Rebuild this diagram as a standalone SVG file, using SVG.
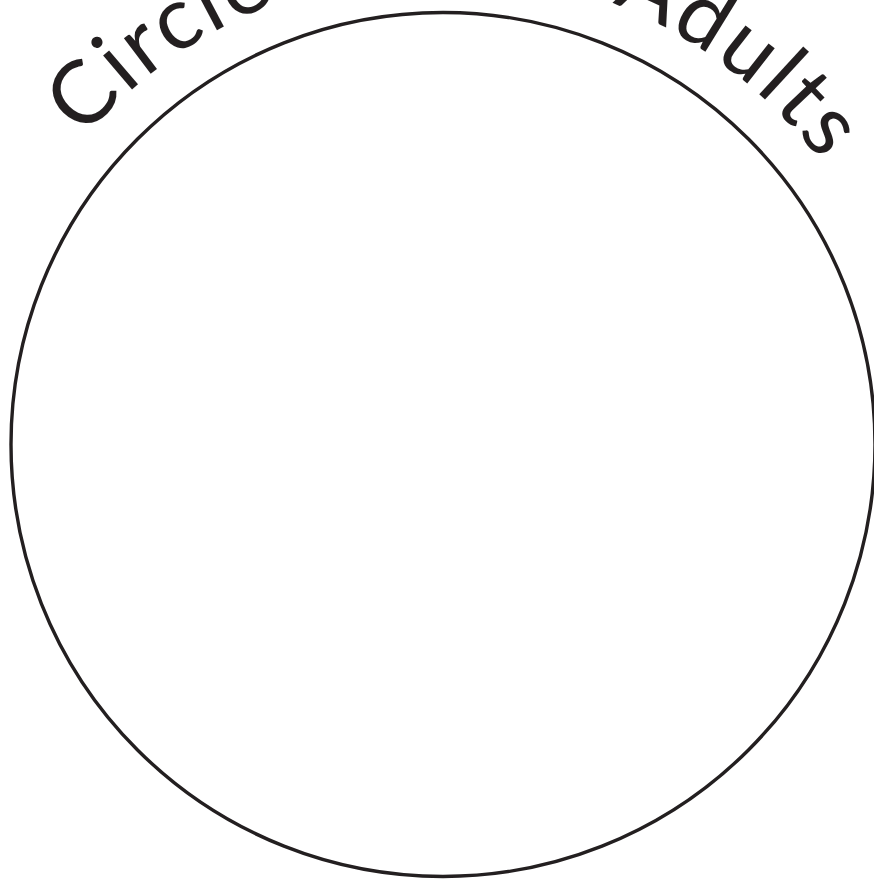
<svg xmlns="http://www.w3.org/2000/svg" xmlns:xlink="http://www.w3.org/1999/xlink" width="874" height="880" viewBox="0 0 874 880">
  <style>
    .ring { fill: #ffffff; stroke: #231f20; stroke-width: 3.4; }
    .title { font-family: Lato, "Liberation Sans", sans-serif; font-size: 88px; fill: #231f20; letter-spacing: 3.5px; }
  </style>
  <defs>
    <path id="arc" d="M -29 444.5 A 472 472 0 0 1 915 444.5"/>
  </defs>
  <rect width="874" height="880" fill="#ffffff"/>
  <g id="circle">
    <circle class="ring" cx="443" cy="444.5" r="432"/>
  </g>
  <g id="title">
    <text class="title"><textPath xlink:href="#arc" href="#arc" startOffset="333">Circle</textPath></text>
    <text class="title"><textPath xlink:href="#arc" href="#arc" startOffset="914">Adults</textPath></text>
  </g>
</svg>
